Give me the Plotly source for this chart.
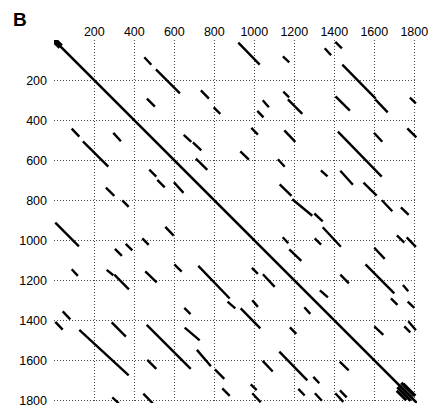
import plotly.graph_objects as go

# Dot-plot segments (sequence position units)
start_x = [450, 508, 463, 87, 143, 295, 475, 515, 258, 340,
           920, 1143, 733, 797, 1042, 1015, 1145, 1168, 647, 693,
           985, 930, 1150, 708, 1118, 598, 1127, 1405, 1352, 1440,
           1605, 1406, 1778, 1418, 1598, 1765, 1333, 1430, 1546, 1190,
           1300, 1638, 1733, 5, 555, 440, 357, 303, 87, 262,
           300, 455, 42, 5, 125, 287, 462, 465, 290, 445,
           1142, 1175, 600, 720, 988, 1043, 1342, 1302, 1713, 1762,
           1600, 1556, 1430, 1743, 650, 866, 932, 990, 652, 713,
           803, 840, 982, 990, 1328, 1250, 1683, 1767, 1178, 1600,
           1750, 1770, 1427, 1125, 1295, 1220, 1303, 1405, 1428, 1042]
start_y = [85, 145, 292, 442, 505, 463, 647, 698, 737, 800,
           12, 80, 250, 335, 300, 353, 257, 295, 473, 510,
           438, 555, 450, 592, 595, 710, 720, 8, 40, 122,
           295, 280, 287, 457, 462, 440, 650, 652, 712, 795,
           866, 800, 835, 912, 933, 990, 1018, 1043, 1145, 1148,
           1172, 1155, 1355, 1408, 1448, 1410, 1423, 1598, 1785, 1767,
           985, 1045, 1120, 1128, 1138, 1170, 935, 990, 975, 985,
           1037, 1120, 1172, 1223, 1338, 1307, 1340, 1300, 1437, 1548,
           1645, 1740, 1720, 1765, 1250, 1335, 1290, 1307, 1435, 1430,
           1430, 1405, 1607, 1557, 1683, 1743, 1765, 1765, 1750, 1603]
end_x = [485, 628, 503, 125, 270, 333, 510, 552, 300, 372,
         1027, 1175, 773, 830, 1073, 1046, 1174, 1240, 685, 735,
         1018, 973, 1205, 765, 1152, 646, 1186, 1438, 1384, 1607,
         1667, 1478, 1808, 1637, 1640, 1810, 1366, 1493, 1612, 1290,
         1342, 1690, 1772, 123, 597, 472, 390, 338, 118, 295,
         373, 512, 80, 42, 372, 358, 682, 510, 322, 492,
         1170, 1235, 637, 877, 1018, 1102, 1433, 1334, 1750, 1808,
         1652, 1700, 1473, 1770, 681, 905, 1030, 1018, 727, 783,
         850, 877, 1012, 1032, 1368, 1280, 1716, 1800, 1210, 1645,
         1780, 1808, 1472, 1265, 1325, 1252, 1338, 1445, 1462, 1092]
end_y = [122, 265, 332, 482, 632, 505, 682, 735, 778, 833,
         122, 110, 292, 368, 335, 385, 285, 368, 508, 550,
         472, 597, 508, 648, 632, 763, 778, 40, 75, 292,
         360, 352, 315, 682, 507, 485, 680, 722, 777, 877,
         905, 855, 873, 1030, 977, 1023, 1050, 1078, 1178, 1175,
         1245, 1210, 1395, 1447, 1675, 1482, 1643, 1643, 1815, 1815,
         1015, 1103, 1157, 1291, 1168, 1233, 1032, 1022, 1012, 1033,
         1093, 1265, 1215, 1255, 1369, 1340, 1440, 1333, 1500, 1630,
         1693, 1778, 1749, 1810, 1285, 1368, 1323, 1338, 1468, 1473,
         1460, 1450, 1650, 1700, 1715, 1776, 1802, 1808, 1785, 1656]

# Thick clusters: start of diagonal and the repeat cluster at the end
cluster_x0 = [0, 1715, 1735, 1712, 1745, 1725]
cluster_y0 = [0, 1735, 1712, 1752, 1718, 1725]
cluster_x1 = [32, 1782, 1800, 1760, 1805, 1790]
cluster_y1 = [32, 1802, 1777, 1800, 1778, 1790]

diag_end = 1813
tick_vals = [0, 200, 400, 600, 800, 1000, 1200, 1400, 1600, 1800]
tick_text = ["", "200", "400", "600", "800", "1000", "1200", "1400", "1600", "1800"]

def seg_xy(x0, y0, x1, y1):
    xs, ys = [], []
    for a, b, c, d in zip(x0, y0, x1, y1):
        xs += [a, c, None]
        ys += [b, d, None]
    return xs, ys

fig = go.Figure()
sx, sy = seg_xy(start_x, start_y, end_x, end_y)
fig.add_trace(go.Scatter(x=sx, y=sy, mode="lines",
                         line=dict(color="black", width=2.4),
                         hoverinfo="skip", showlegend=False, cliponaxis=False))
fig.add_trace(go.Scatter(x=[0, diag_end], y=[0, diag_end], mode="lines",
                         line=dict(color="black", width=2.6),
                         hoverinfo="skip", showlegend=False))
cx, cy = seg_xy(cluster_x0[:1], cluster_y0[:1], cluster_x1[:1], cluster_y1[:1])
fig.add_trace(go.Scatter(x=cx, y=cy, mode="lines",
                         line=dict(color="black", width=6),
                         hoverinfo="skip", showlegend=False))
cx, cy = seg_xy(cluster_x0[1:], cluster_y0[1:], cluster_x1[1:], cluster_y1[1:])
fig.add_trace(go.Scatter(x=cx, y=cy, mode="lines",
                         line=dict(color="black", width=3),
                         hoverinfo="skip", showlegend=False))

font_family = "Liberation Sans, Arial, Helvetica, sans-serif"
axis_common = dict(
    tickvals=tick_vals, ticktext=tick_text, automargin=False,
    showgrid=True, gridcolor="#4a4a4a", gridwidth=1, griddash="1px,2px",
    zeroline=False, showline=False, ticks="", ticklabeloverflow="allow",
    tickfont=dict(family=font_family, size=12.5, color="black"),
)
fig.update_xaxes(range=[-1.5, 1813.5], side="top", ticklabelstandoff=1, **axis_common)
fig.update_yaxes(range=[1813.5, -1.5], ticklabelstandoff=6, **axis_common)

fig.add_annotation(text="<b>B</b>", xref="paper", yref="paper",
                   x=(11 - 54) / 363, y=1 + (40 - 7) / 363,
                   xanchor="left", yanchor="top", showarrow=False,
                   font=dict(family=font_family, size=19, color="black"))

fig.update_layout(width=429, height=406,
                  margin=dict(l=54, r=12, t=40, b=3),
                  paper_bgcolor="white", plot_bgcolor="white",
                  font=dict(family=font_family))
fig.write_html("out.html", config={"displayModeBar": False},
               post_script="document.body.style.margin='0';document.body.style.overflow='hidden';")
